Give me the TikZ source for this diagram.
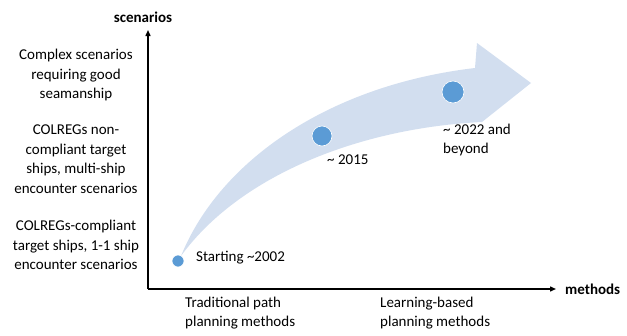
\documentclass[tikz,border=0pt]{standalone}
\usepackage{fontspec}
\setmainfont{Carlito}
\usetikzlibrary{arrows.meta}

\definecolor{trendblue}{RGB}{210,222,239}
\definecolor{dotblue}{RGB}{91,155,213}

\begin{document}
\begin{tikzpicture}[x=1pt, y={(0,-1pt)}, >={Triangle[length=6pt,width=5pt]},
  every node/.style={font=\fontsize{15}{19.5}\selectfont, inner sep=0pt},
  scenario/.style={align=center},
  method/.style={align=left, anchor=west},
  year/.style={align=left, anchor=west},
  axis label/.style={font=\fontsize{15}{19.5}\selectfont\bfseries},
  milestone/.style={circle, fill=dotblue, draw=white, line width=0.6pt}]

\useasboundingbox (0,0) rectangle (627,335);

% trend arrow
\path [fill=trendblue]
  (181,256) .. controls (220,160) and (330,85) .. (475,68)
  -- (477,43) -- (531,83) -- (482,122)
  .. controls (360,128) and (240,175) .. (181,256) -- cycle;

% axes
\coordinate (origin) at (148,289);
\coordinate (ytop) at (148,30);
\coordinate (xend) at (556,289);
\draw [line width=1.4pt, ->] (origin) -- (ytop);
\draw [line width=1.4pt, ->] (origin) -- (xend);

\node [axis label] (ylabel) at (143,17) {scenarios};
\node [axis label, anchor=west] (xlabel) at (565,289) {methods};

% scenarios
\foreach \t/\y [count=\i] in {
    {Complex scenarios\\requiring good\\seamanship}/75,
    {COLREGs non-\\compliant target\\ships, multi-ship\\encounter scenarios}/159,
    {COLREGs-compliant\\target ships, 1-1 ship\\encounter scenarios}/245}
  \node [scenario] (scen-\i) at (76,\y) {\t};

% methods
\foreach \t/\x [count=\i] in {
    {Traditional path\\planning methods}/185,
    {Learning-based\\planning methods}/380}
  \node [method] (meth-\i) at (\x,313) {\t};

% milestones
\foreach \x/\y/\r [count=\i] in {178/261/6, 322/136/10, 453/92/11}
  \node [milestone, minimum size=2*\r] (dot-\i) at (\x,\y) {};

\node [year] (year-1) at (196,258) {Starting \textasciitilde2002};
\node [year] (year-2) at (327,160) {\textasciitilde{} 2015};
\node [year] (year-3) at (443,140) {\textasciitilde{} 2022 and\\beyond};

\end{tikzpicture}
\end{document}
